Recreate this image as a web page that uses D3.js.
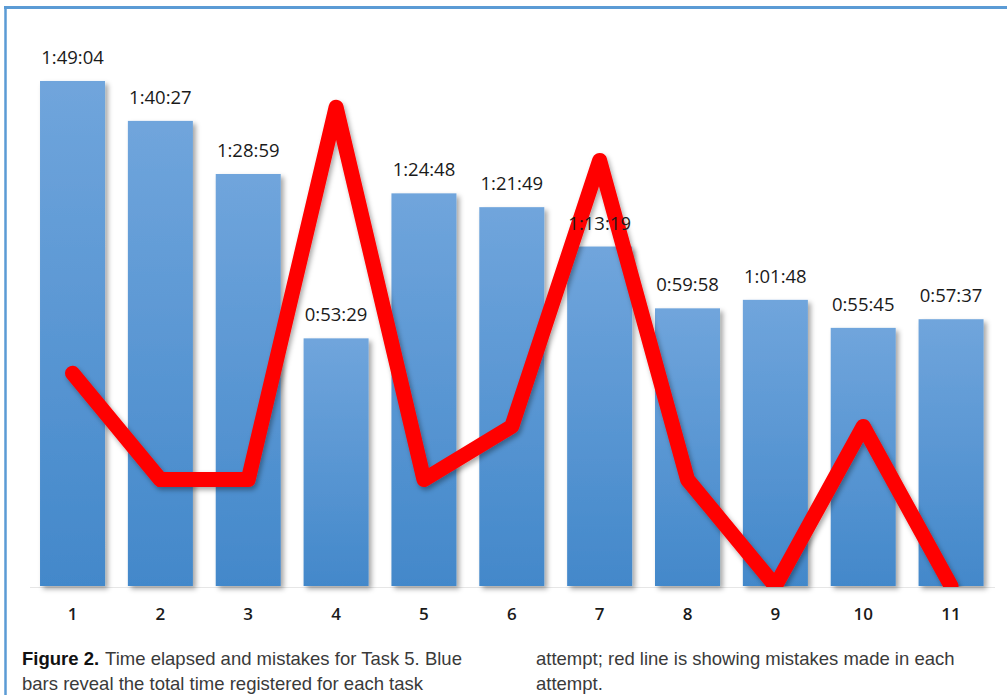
<!DOCTYPE html>
<html>
<head>
<meta charset="utf-8">
<script src="https://cdn.jsdelivr.net/npm/d3@7"></script>
<style>
  html, body { margin: 0; padding: 0; background: #fff; }
  svg { display: block; }
</style>
</head>
<body>
<svg id="chart" width="1007" height="695"></svg>
<script>
// Attempts (x categories)
const attempts = ["1", "2", "3", "4", "5", "6", "7", "8", "9", "10", "11"];
// Total elapsed time per attempt, as h:mm:ss labels
const timeLabels = ["1:49:04", "1:40:27", "1:28:59", "0:53:29", "1:24:48", "1:21:49",
                    "1:13:19", "0:59:58", "1:01:48", "0:55:45", "0:57:37"];
// Mistakes per attempt
const mistakes = [4, 2, 2, 9, 2, 3, 8, 2, 0, 3, 0];

// Convert "h:mm:ss" into seconds
const toSeconds = s => s.split(":").map(Number).reduce((a, v) => a * 60 + v, 0);
const seconds = timeLabels.map(toSeconds);

const svg = d3.select("#chart");
const W = 1007, H = 695;
const baseY = 586;

const defs = svg.append("defs");
const grad = defs.append("linearGradient")
  .attr("id", "barGrad").attr("x1", 0).attr("y1", 0).attr("x2", 0).attr("y2", 1);
grad.append("stop").attr("offset", "0%").attr("stop-color", "#70a5dc");
grad.append("stop").attr("offset", "100%").attr("stop-color", "#4388ca");

const shadow = defs.append("filter").attr("id", "shadow")
  .attr("x", "-20%").attr("y", "-20%").attr("width", "140%").attr("height", "140%");
shadow.append("feDropShadow").attr("dx", 3).attr("dy", 3).attr("stdDeviation", 2.5)
  .attr("flood-color", "#000").attr("flood-opacity", 0.35);

const lineShadow = defs.append("filter").attr("id", "lineShadow")
  .attr("x", "-10%").attr("y", "-10%").attr("width", "120%").attr("height", "120%");
lineShadow.append("feDropShadow").attr("dx", 2).attr("dy", 3).attr("stdDeviation", 2.5)
  .attr("flood-color", "#000").attr("flood-opacity", 0.35);

defs.append("clipPath").attr("id", "plotClip")
  .append("rect").attr("x", 0).attr("y", 0).attr("width", W).attr("height", baseY + 1);

// Scales
const x = d3.scaleBand().domain(attempts).range([28.6, 995])
  .paddingInner(0.26).paddingOuter(0.13);
const y = d3.scaleLinear().domain([0, 7000]).range([baseY, baseY - 540.2]);
const yM = d3.scaleLinear().domain([0, 10]).range([baseY, baseY - 532]);

// Frame
svg.append("line").attr("x1", 4).attr("x2", W).attr("y1", 7.5).attr("y2", 7.5)
  .attr("stroke", "#5b9bd5").attr("stroke-width", 3);
svg.append("line").attr("x1", 5.5).attr("x2", 5.5).attr("y1", 6).attr("y2", H)
  .attr("stroke", "#5b9bd5").attr("stroke-width", 2.5);

// Baseline
svg.append("line").attr("x1", 30).attr("x2", 995).attr("y1", baseY + 1.5).attr("y2", baseY + 1.5)
  .attr("stroke", "#e6e6e6").attr("stroke-width", 1);

// Bars
svg.append("g").selectAll("rect").data(attempts).join("rect")
  .attr("x", d => x(d))
  .attr("y", (d, i) => y(seconds[i]))
  .attr("width", x.bandwidth())
  .attr("height", (d, i) => y(0) - y(seconds[i]))
  .attr("fill", "url(#barGrad)")
  .attr("filter", "url(#shadow)");

// Mistakes line
const line = d3.line()
  .x((d, i) => x(attempts[i]) + x.bandwidth() / 2)
  .y(d => yM(d));
svg.append("g").attr("clip-path", "url(#plotClip)")
  .append("path")
  .datum(mistakes)
  .attr("d", line)
  .attr("fill", "none")
  .attr("stroke", "#ff0000")
  .attr("stroke-width", 15)
  .attr("stroke-linejoin", "round")
  .attr("stroke-linecap", "round")
  .attr("filter", "url(#lineShadow)");

// Bar value labels (drawn above the line)
svg.append("g").selectAll("text").data(attempts).join("text")
  .attr("x", d => x(d) + x.bandwidth() / 2)
  .attr("y", (d, i) => y(seconds[i]) - 17)
  .attr("text-anchor", "middle")
  .attr("font-family", "'Open Sans', sans-serif")
  .attr("font-size", 18.5)
  .attr("fill", "#1a1a1a")
  .text((d, i) => timeLabels[i]);

// Category axis labels
svg.append("g").selectAll("text").data(attempts).join("text")
  .attr("x", d => x(d) + x.bandwidth() / 2)
  .attr("y", 620)
  .attr("text-anchor", "middle")
  .attr("font-family", "'Open Sans', sans-serif")
  .attr("font-weight", 600)
  .attr("font-size", 17)
  .attr("fill", "#1a1a1a")
  .text(d => d);

// Caption
const cap = svg.append("g")
  .attr("font-family", "'Liberation Sans', Arial, sans-serif")
  .attr("font-size", 18.5)
  .attr("fill", "#3a3a3a");
const l1 = cap.append("text").attr("x", 22).attr("y", 665);
l1.append("tspan").attr("font-family", "'Liberation Sans Narrow', 'Liberation Sans', sans-serif")
  .attr("font-weight", "bold").attr("fill", "#111").text("Figure 2.");
l1.append("tspan").attr("dx", 6).text("Time elapsed and mistakes for Task 5. Blue");
cap.append("text").attr("x", 22).attr("y", 690).text("bars reveal the total time registered for each task");
cap.append("text").attr("x", 536).attr("y", 665).text("attempt; red line is showing mistakes made in each");
cap.append("text").attr("x", 536).attr("y", 690).text("attempt.");
</script>
</body>
</html>
